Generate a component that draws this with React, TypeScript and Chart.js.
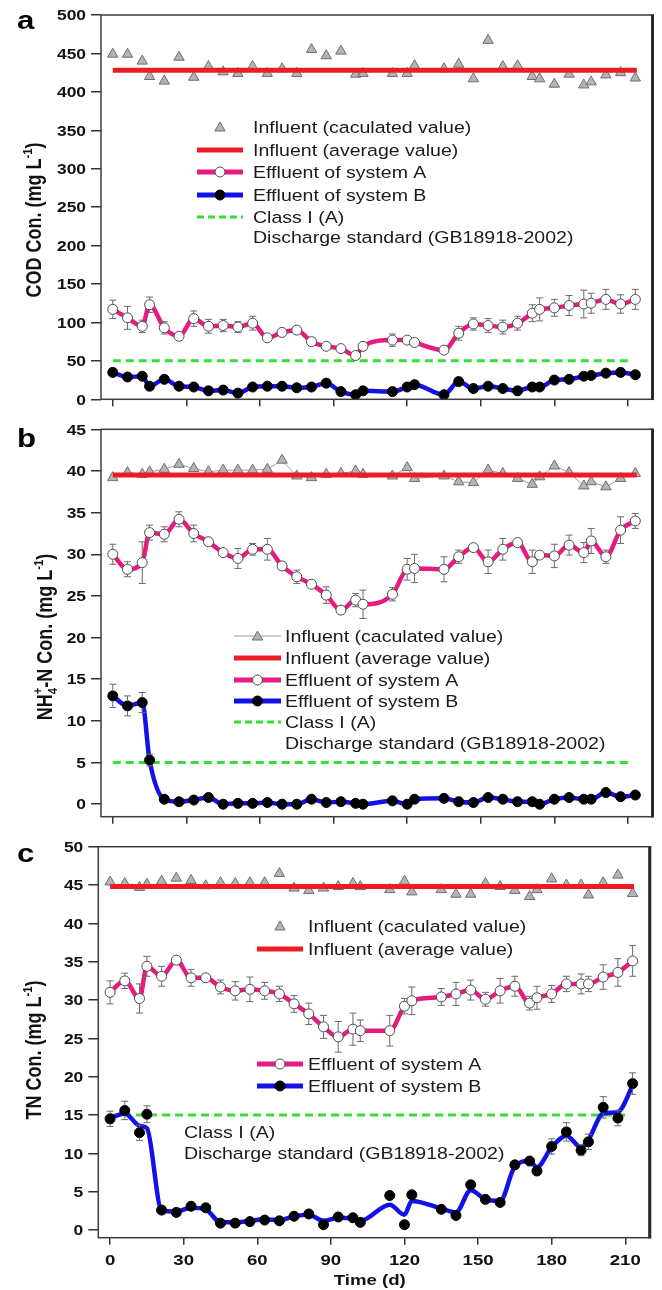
import React, { useEffect, useRef } from 'react';
import { Chart, registerables } from 'chart.js';

Chart.register(...registerables);

// ---------------- data ----------------
const days = [0, 6, 12, 15, 21, 27, 33, 39, 45, 51, 57, 63, 69, 75, 81, 87, 93, 99, 102, 114, 120, 123, 135, 141, 147, 153, 159, 165, 171, 174, 180, 186, 192, 195, 201, 207, 213];
const xTicks = [0, 30, 60, 90, 120, 150, 180, 210];

// (a) COD
const codTicks = [0, 50, 100, 150, 200, 250, 300, 350, 400, 450, 500];
const codInfluent = [449, 449, 440, 420, 414, 445, 419, 433, 426, 424, 433, 424, 430, 424, 455, 447, 453, 423, 424, 424, 424, 434, 430, 436, 417, 467, 433, 434, 420, 417, 410, 423, 409, 413, 422, 425, 418];
const codInfluentAvg = 428;
const codA = [117, 106, 95, 123, 93, 82, 105, 95, 96, 94, 99, 80, 87, 90, 75, 69, 66, 57, 69, 77, 77, 74, 64, 86, 98, 96, 94, 99, 112, 117, 119, 122, 124, 125, 130, 124, 130];
const codAErr = [12, 15, 8, 10, 8, 6, 10, 9, 8, 7, 9, 6, 6.5, 5, 6, 5, 5, 5, 5, 8, 6.5, 6, 5, 9, 8, 9, 9, 9, 11, 15, 11, 13, 18, 13, 13, 12, 13];
const codB = [35, 29, 30, 17, 26, 17, 16, 11, 12, 8, 16, 17, 17, 15, 16, 21, 10, 6, 11, 10, 16, 19, 6, 23, 14, 17, 14, 11, 16, 16, 25, 26, 30, 31, 34, 35, 32];
const codBErr = [3, 2, 2, 2, 2, 2, 2, 2, 2, 2, 2, 2, 2, 2, 2, 5, 2, 2, 2, 2, 2, 2, 2, 3, 2, 2, 2, 2, 2, 2, 2, 2, 2, 2, 3, 4, 2];
const codStandard = 50;

// (b) NH4+-N
const nhTicks = [0, 5, 10, 15, 20, 25, 30, 35, 40, 45];
const nhInfluent = [39.2, 39.8, 39.6, 39.9, 40.2, 40.8, 40.3, 39.9, 40.1, 40.1, 40.1, 40.2, 41.3, 39.4, 39.2, 39.6, 39.7, 40.0, 39.6, 39.4, 40.4, 39.1, 39.4, 38.7, 38.6, 40.1, 39.7, 39.1, 38.4, 39.3, 40.6, 39.8, 38.2, 38.7, 38.1, 39.1, 39.7];
const nhInfluentAvg = 39.5;
const nhA = [30.0, 28.2, 29.0, 32.6, 32.4, 34.2, 32.5, 31.5, 30.2, 29.5, 30.6, 30.6, 28.6, 27.3, 26.4, 25.1, 23.3, 24.5, 24.0, 25.2, 28.2, 28.3, 28.2, 29.7, 30.8, 29.1, 30.6, 31.4, 29.1, 29.9, 29.8, 31.1, 30.2, 31.6, 29.7, 32.9, 34.0];
const nhAErr = [1.2, 0.9, 2.5, 0.9, 0.9, 0.9, 1.0, 0.4, 0.5, 1.2, 0.7, 1.3, 0.6, 0.8, 0.4, 1.0, 0.4, 0.8, 1.7, 0.8, 1.3, 1.7, 1.5, 0.8, 0.5, 1.4, 1.3, 0.5, 1.4, 0.4, 1.4, 1.2, 1.2, 1.5, 0.8, 1.6, 0.9];
const nhB = [13.0, 11.8, 12.2, 5.3, 0.6, 0.3, 0.5, 0.8, 0.0, 0.1, 0.1, 0.2, 0.0, 0.0, 0.6, 0.2, 0.3, 0.1, 0.0, 0.4, 0.0, 0.6, 0.7, 0.3, 0.2, 0.8, 0.6, 0.3, 0.3, 0.0, 0.6, 0.8, 0.6, 0.6, 1.4, 0.9, 1.1];
const nhBErr = [1.4, 1.2, 1.2, 0.7, 0.2, 0.2, 0.2, 0.2, 0.2, 0.2, 0.2, 0.2, 0.2, 0.2, 0.2, 0.2, 0.2, 0.2, 0.2, 0.2, 0.2, 0.2, 0.2, 0.2, 0.2, 0.2, 0.2, 0.2, 0.2, 0.2, 0.2, 0.2, 0.2, 0.2, 0.2, 0.2, 0.2];
const nhStandard = 5;

// (c) TN
const tnTicks = [0, 5, 10, 15, 20, 25, 30, 35, 40, 45, 50];
const tnInfluent = [45.4, 45.2, 44.7, 45.1, 45.5, 45.9, 45.6, 44.9, 45.3, 45.2, 45.3, 45.3, 46.5, 44.6, 44.3, 44.6, 44.8, 45.2, 44.8, 44.4, 45.5, 44.1, 44.4, 43.8, 43.8, 45.2, 44.8, 44.3, 43.5, 44.4, 45.8, 45.0, 45.0, 43.7, 45.3, 46.3, 43.9];
const tnInfluentAvg = 44.8;
const tnA = [31.0, 32.5, 30.2, 34.4, 33.1, 35.2, 32.9, 32.9, 31.7, 31.2, 31.4, 31.2, 30.8, 29.5, 28.2, 26.5, 25.2, 26.2, 26.0, 26.0, 29.2, 29.9, 30.4, 30.8, 31.3, 30.1, 31.2, 31.8, 29.6, 30.3, 30.8, 32.1, 32.1, 32.1, 33.0, 33.6, 35.1];
const tnAErr = [1.5, 1.0, 1.9, 1.3, 1.3, 0.5, 1.1, 0.5, 0.9, 1.2, 1.6, 1.1, 1.0, 1.1, 1.4, 1.5, 2.0, 2.1, 1.4, 2.0, 1.0, 1.8, 1.1, 1.5, 1.3, 0.9, 1.6, 1.3, 0.9, 1.5, 1.1, 1.0, 1.3, 1.0, 1.6, 1.8, 2.0];
const tnB = [14.5, 15.6, 12.7, 15.1, 2.6, 2.3, 3.1, 2.9, 0.9, 0.9, 1.1, 1.3, 1.2, 1.8, 2.1, 0.7, 1.7, 1.6, 1.0, 4.5, 0.7, 4.6, 2.7, 1.9, 5.9, 4.0, 3.6, 8.5, 9.0, 7.7, 10.9, 12.8, 10.4, 11.5, 16.0, 14.6, 19.1];
const tnBErr = [1.0, 1.2, 1.0, 1.1, 0.3, 0.3, 0.3, 0.3, 0.3, 0.3, 0.3, 0.3, 0.3, 0.3, 0.3, 0.3, 0.3, 0.3, 0.3, 0.3, 0.3, 0.3, 0.3, 0.3, 0.3, 0.3, 0.3, 0.5, 0.5, 0.4, 1.0, 1.2, 0.7, 1.0, 1.4, 1.0, 1.4];
const tnBCurve = [14.6, 15.2, 13.6, 13.3, 2.6, 2.4, 2.9, 2.7, 1.0, 1.0, 1.2, 1.4, 1.3, 1.8, 2.0, 1.2, 1.6, 1.5, 1.2, 3.3, 2.0, 3.8, 2.8, 2.3, 5.2, 4.0, 3.8, 8.3, 9.0, 8.2, 10.8, 12.3, 10.8, 11.8, 15.2, 15.4, 18.8];
const tnStandard = 15;

const avgLineDays = [0, 213.6];
const standardDays = [0, 212];

// ---------------- styling ----------------
const FONT = '"Liberation Sans", Arial, Helvetica, "DejaVu Sans", sans-serif';
const SX = 1.2;
const RED = '#ec1c24';
const PINK = '#e8197f';
const BLUE = '#1212e8';
const GREEN = '#33e033';
const TRI_FILL = '#b4b4b4';
const TRI_EDGE = '#6e6e6e';
const FRAME = '#3c3c3c';

type Seg = { t: string; k?: 'sup' | 'sub'; stack?: string };

function drawRich(ctx: CanvasRenderingContext2D, segs: Seg[], x: number, y: number, size: number, bold: boolean, align: string, rotated = false, color = '#111') {
  ctx.save();
  ctx.translate(x, y);
  if (rotated) {
    ctx.rotate(-Math.PI / 2);
    ctx.scale(1, SX);
  } else {
    ctx.scale(SX, 1);
  }
  const w = bold ? 'bold ' : '';
  const small = size * 0.62;
  const widths = segs.map((s) => {
    ctx.font = `${w}${s.k ? small : size}px ${FONT}`;
    let m = ctx.measureText(s.t).width;
    if (s.stack) m = Math.max(m, ctx.measureText(s.stack).width);
    return m;
  });
  const total = widths.reduce((a, b) => a + b, 0);
  let cx = align === 'center' ? -total / 2 : align === 'right' ? -total : 0;
  const base = size * 0.36;
  ctx.textBaseline = 'alphabetic';
  ctx.textAlign = 'left';
  ctx.fillStyle = color;
  segs.forEach((s, i) => {
    ctx.font = `${w}${s.k ? small : size}px ${FONT}`;
    let dy = 0;
    if (s.k === 'sup') dy = -size * 0.42;
    if (s.k === 'sub') dy = size * 0.22;
    ctx.fillText(s.t, cx, base + dy);
    if (s.stack) ctx.fillText(s.stack, cx, base - size * 0.47);
    cx += widths[i];
  });
  ctx.restore();
}

function drawTri(ctx: CanvasRenderingContext2D, x: number, y: number, r: number) {
  ctx.beginPath();
  ctx.moveTo(x, y - r);
  ctx.lineTo(x + 0.866 * r, y + 0.5 * r);
  ctx.lineTo(x - 0.866 * r, y + 0.5 * r);
  ctx.closePath();
  ctx.fillStyle = TRI_FILL;
  ctx.fill();
  ctx.strokeStyle = TRI_EDGE;
  ctx.lineWidth = 1;
  ctx.stroke();
}

function drawSeg(ctx: CanvasRenderingContext2D, x0: number, x1: number, y: number, color: string, width: number, dash: number[] = []) {
  ctx.save();
  ctx.beginPath();
  ctx.setLineDash(dash);
  ctx.moveTo(x0, y);
  ctx.lineTo(x1, y);
  ctx.strokeStyle = color;
  ctx.lineWidth = width;
  ctx.stroke();
  ctx.restore();
}

function drawDot(ctx: CanvasRenderingContext2D, x: number, y: number, r: number, fill: string, stroke: string) {
  ctx.beginPath();
  ctx.arc(x, y, r, 0, Math.PI * 2);
  ctx.fillStyle = fill;
  ctx.fill();
  ctx.strokeStyle = stroke;
  ctx.lineWidth = 1;
  ctx.stroke();
}

interface LegendRow { sym: string; y: number; text: string; x0?: number; x1?: number; tx?: number }
interface PanelCfg {
  top: number;
  height: number;
  plot: { left: number; right: number; top: number; bottom: number };
  yMin: number;
  yMax: number;
  yTicks: number[];
  showXLabels: boolean;
  letter: string;
  letterY: number;
  title: Seg[];
  titleX: number;
  titleY: number;
  influent: number[];
  influentLine: boolean;
  avg: number;
  a: number[];
  aErr: number[];
  b: number[];
  bErr: number[];
  bCurve: number[];
  standard: number;
  legend: { x0: number; x1: number; tx: number; rows: LegendRow[] };
}

const panels: PanelCfg[] = [
  {
    top: 0,
    height: 415,
    plot: { left: 101, right: 652, top: 15, bottom: 399.3 },
    yMin: 0,
    yMax: 500,
    yTicks: codTicks,
    showXLabels: false,
    letter: 'a',
    letterY: 28.5,
    title: [{ t: 'COD Con. (mg L' }, { t: '-1', k: 'sup' }, { t: ')' }],
    titleX: 33,
    titleY: 220,
    influent: codInfluent,
    influentLine: false,
    avg: codInfluentAvg,
    a: codA,
    aErr: codAErr,
    b: codB,
    bErr: codBErr,
    bCurve: codB,
    standard: codStandard,
    legend: {
      x0: 197,
      x1: 243,
      tx: 253,
      rows: [
        { sym: 'tri', y: 127, text: 'Influent (caculated value)' },
        { sym: 'red', y: 150, text: 'Influent (average value)' },
        { sym: 'pink', y: 172, text: 'Effluent of system A' },
        { sym: 'blue', y: 195, text: 'Effluent of system B' },
        { sym: 'green', y: 217, text: 'Class I (A)' },
        { sym: 'none', y: 237, text: 'Discharge standard (GB18918-2002)' },
      ],
    },
  },
  {
    top: 415,
    height: 415,
    plot: { left: 101, right: 652, top: 429.3, bottom: 816.7 },
    yMin: -1.5,
    yMax: 45,
    yTicks: nhTicks,
    showXLabels: false,
    letter: 'b',
    letterY: 447,
    title: [{ t: 'NH' }, { t: '4', k: 'sub', stack: '+' }, { t: '-N Con. (mg L' }, { t: '-1', k: 'sup' }, { t: ')' }],
    titleX: 44,
    titleY: 637,
    influent: nhInfluent,
    influentLine: true,
    avg: nhInfluentAvg,
    a: nhA,
    aErr: nhAErr,
    b: nhB,
    bErr: nhBErr,
    bCurve: nhB,
    standard: nhStandard,
    legend: {
      x0: 234,
      x1: 281,
      tx: 285,
      rows: [
        { sym: 'triLine', y: 636, text: 'Influent (caculated value)' },
        { sym: 'red', y: 658, text: 'Influent (average value)' },
        { sym: 'pink', y: 680, text: 'Effluent of system A' },
        { sym: 'blue', y: 701, text: 'Effluent of system B' },
        { sym: 'green', y: 722, text: 'Class I (A)' },
        { sym: 'none', y: 743, text: 'Discharge standard (GB18918-2002)' },
      ],
    },
  },
  {
    top: 830,
    height: 460,
    plot: { left: 98.3, right: 649.3, top: 846.7, bottom: 1237.7 },
    yMin: -1,
    yMax: 50,
    yTicks: tnTicks,
    showXLabels: true,
    letter: 'c',
    letterY: 862,
    title: [{ t: 'TN Con. (mg L' }, { t: '-1', k: 'sup' }, { t: ')' }],
    titleX: 33,
    titleY: 1050,
    influent: tnInfluent,
    influentLine: false,
    avg: tnInfluentAvg,
    a: tnA,
    aErr: tnAErr,
    b: tnB,
    bErr: tnBErr,
    bCurve: tnBCurve,
    standard: tnStandard,
    legend: {
      x0: 257,
      x1: 303,
      tx: 308,
      rows: [
        { sym: 'tri', y: 926, text: 'Influent (caculated value)' },
        { sym: 'red', y: 949, text: 'Influent (average value)' },
        { sym: 'pink', y: 1064, text: 'Effluent of system A' },
        { sym: 'blue', y: 1086, text: 'Effluent of system B' },
        { sym: 'none', y: 1132, text: 'Class I (A)', tx: 184 },
        { sym: 'none', y: 1153.5, text: 'Discharge standard (GB18918-2002)', tx: 184 },
      ],
    },
  },
];

function buildConfig(cfg: PanelCfg): any {
  const pts = (ys: number[]) => days.map((d, i) => ({ x: d, y: ys[i] }));
  const H = cfg.height;
  const off = cfg.top;
  const P = {
    left: cfg.plot.left,
    right: cfg.plot.right,
    top: cfg.plot.top - off,
    bottom: cfg.plot.bottom - off,
  };

  const decor = {
    id: 'decor',
    afterDatasetsDraw(chart: any) {
      const ctx: CanvasRenderingContext2D = chart.ctx;
      const ys = chart.scales.y;
      chart.data.datasets.forEach((ds: any, i: number) => {
        if (!ds.errors) return;
        const meta = chart.getDatasetMeta(i);
        const r = ds.pointRadius || 5;
        ctx.save();
        ctx.strokeStyle = '#6a6a6a';
        ctx.lineWidth = 1;
        meta.data.forEach((el: any, j: number) => {
          const v = ds.data[j].y;
          const e = ds.errors[j];
          const yt = ys.getPixelForValue(v + e);
          const yb = ys.getPixelForValue(v - e);
          const x = el.x;
          const y = el.y;
          ctx.beginPath();
          if (yt < y - r) {
            ctx.moveTo(x, yt);
            ctx.lineTo(x, y - r);
            ctx.moveTo(x - 3.5, yt);
            ctx.lineTo(x + 3.5, yt);
          }
          if (yb > y + r) {
            ctx.moveTo(x, y + r);
            ctx.lineTo(x, yb);
            ctx.moveTo(x - 3.5, yb);
            ctx.lineTo(x + 3.5, yb);
          }
          ctx.stroke();
        });
        ctx.restore();
      });
    },
    afterDraw(chart: any) {
      const ctx: CanvasRenderingContext2D = chart.ctx;
      const a = chart.chartArea;
      // frame
      ctx.save();
      ctx.strokeStyle = FRAME;
      ctx.lineWidth = 1.5;
      ctx.strokeRect(a.left, a.top, a.right - a.left, a.bottom - a.top);
      ctx.beginPath();
      ctx.lineWidth = 3;
      ctx.strokeStyle = '#2a2a2a';
      ctx.moveTo(a.right + 0.5, a.top - 0.7);
      ctx.lineTo(a.right + 0.5, a.bottom + 0.7);
      ctx.stroke();
      ctx.restore();

      // y tick labels
      const ys = chart.scales.y;
      cfg.yTicks.forEach((v) => {
        drawRich(ctx, [{ t: String(v) }], a.left - 15, ys.getPixelForValue(v), 14.5, true, 'right');
      });
      // x tick labels
      if (cfg.showXLabels) {
        const xs = chart.scales.x;
        xTicks.forEach((v) => {
          drawRich(ctx, [{ t: String(v) }], xs.getPixelForValue(v), 1259 - off, 15.5, true, 'center');
        });
        drawRich(ctx, [{ t: 'Time (d)' }], (a.left + a.right) / 2 - 4, 1279 - off, 15.5, true, 'center');
      }
      // axis title
      drawRich(ctx, cfg.title, cfg.titleX, cfg.titleY - off, 18, true, 'center', true);
      // panel letter
      ctx.save();
      ctx.translate(17, cfg.letterY - off);
      ctx.scale(SX, 1);
      ctx.font = `bold 26px ${FONT}`;
      ctx.fillStyle = '#000';
      ctx.textBaseline = 'alphabetic';
      ctx.fillText(cfg.letter, 0, 0);
      ctx.restore();

      // legend
      const L = cfg.legend;
      L.rows.forEach((row) => {
        const x0 = row.x0 ?? L.x0;
        const x1 = row.x1 ?? L.x1;
        const tx = row.tx ?? L.tx;
        const y = row.y - off;
        const cx = (x0 + x1) / 2;
        if (row.sym === 'tri') drawTri(ctx, cx, y + 1, 6);
        if (row.sym === 'triLine') {
          drawSeg(ctx, x0, x1, y, '#9a9a9a', 1.2);
          drawTri(ctx, cx, y + 1, 6);
        }
        if (row.sym === 'red') drawSeg(ctx, x0, x1, y, RED, 5);
        if (row.sym === 'pink') {
          drawSeg(ctx, x0, x1, y, PINK, 5);
          drawDot(ctx, cx, y, 5, '#ffffff', '#4a4a4a');
        }
        if (row.sym === 'blue') {
          drawSeg(ctx, x0, x1, y, BLUE, 5);
          drawDot(ctx, cx, y, 5, '#000000', '#000000');
        }
        if (row.sym === 'green') drawSeg(ctx, x0, x1, y, GREEN, 3, [7, 4]);
        drawRich(ctx, [{ t: row.text }], tx, y, 16.3, false, 'left', false, '#1a1a1a');
      });
    },
  };

  return {
    type: 'line',
    data: {
      datasets: [
        {
          label: 'Effluent of system B',
          data: pts(cfg.b),
          showLine: false,
          pointRadius: 5,
          pointHoverRadius: 5,
          pointBackgroundColor: '#000000',
          pointBorderColor: '#000000',
          pointBorderWidth: 1,
          errors: cfg.bErr,
          order: 0,
        },
        {
          label: 'Effluent of system B (curve)',
          data: pts(cfg.bCurve),
          borderColor: BLUE,
          borderWidth: 4.5,
          pointRadius: 0,
          cubicInterpolationMode: 'monotone',
          borderJoinStyle: 'round',
          borderCapStyle: 'round',
          fill: false,
          order: 1,
        },
        {
          label: 'Effluent of system A',
          data: pts(cfg.a),
          showLine: false,
          pointRadius: 5,
          pointHoverRadius: 5,
          pointBackgroundColor: '#ffffff',
          pointBorderColor: '#4a4a4a',
          pointBorderWidth: 1,
          errors: cfg.aErr,
          order: 2,
        },
        {
          label: 'Effluent of system A (curve)',
          data: pts(cfg.a),
          borderColor: PINK,
          borderWidth: 4.5,
          pointRadius: 0,
          cubicInterpolationMode: 'monotone',
          borderJoinStyle: 'round',
          borderCapStyle: 'round',
          fill: false,
          order: 3,
        },
        {
          label: 'Influent (average value)',
          data: avgLineDays.map((d) => ({ x: d, y: cfg.avg })),
          borderColor: RED,
          borderWidth: 5,
          pointRadius: 0,
          fill: false,
          order: 4,
        },
        {
          label: 'Influent (caculated value)',
          data: pts(cfg.influent),
          showLine: cfg.influentLine,
          borderColor: '#a0a0a0',
          borderWidth: 1,
          pointStyle: 'triangle',
          pointRadius: 6,
          pointHoverRadius: 6,
          pointBackgroundColor: TRI_FILL,
          pointBorderColor: TRI_EDGE,
          pointBorderWidth: 1,
          tension: 0,
          fill: false,
          order: 5,
        },
        {
          label: 'Class I (A) Discharge standard (GB18918-2002)',
          data: standardDays.map((d) => ({ x: d, y: cfg.standard })),
          borderColor: GREEN,
          borderWidth: 3,
          borderDash: [8, 5],
          pointRadius: 0,
          fill: false,
          order: 6,
        },
      ],
    },
    options: {
      responsive: false,
      animation: false,
      events: [],
      layout: {
        padding: { left: 0, top: P.top, right: 662 - P.right, bottom: 0 },
      },
      plugins: {
        legend: { display: false },
        tooltip: { enabled: false },
        title: { display: false },
      },
      scales: {
        x: {
          type: 'linear',
          position: 'bottom',
          min: -4.8,
          max: 219.8,
          afterBuildTicks: (s: any) => {
            s.ticks = xTicks.map((v) => ({ value: v }));
          },
          afterFit: (s: any) => {
            s.height = H - P.bottom;
          },
          ticks: { display: false },
          grid: { display: true, drawOnChartArea: false, drawTicks: true, tickLength: 7, color: '#333', lineWidth: 1.5 },
          border: { display: false },
        },
        y: {
          type: 'linear',
          position: 'left',
          min: cfg.yMin,
          max: cfg.yMax,
          afterBuildTicks: (s: any) => {
            s.ticks = cfg.yTicks.map((v) => ({ value: v }));
          },
          afterFit: (s: any) => {
            s.width = P.left;
          },
          ticks: { display: false },
          grid: { display: true, drawOnChartArea: false, drawTicks: true, tickLength: 10, color: '#333', lineWidth: 1.5 },
          border: { display: false },
        },
      },
    },
    plugins: [decor],
  };
}

function Panel({ cfg }: { cfg: PanelCfg }) {
  const ref = useRef<HTMLCanvasElement>(null);
  useEffect(() => {
    if (!ref.current) return;
    const chart = new Chart(ref.current, buildConfig(cfg));
    return () => chart.destroy();
  }, [cfg]);
  return (
    <canvas
      ref={ref}
      width={662}
      height={cfg.height}
      style={{ position: 'absolute', left: 0, top: cfg.top, width: 662, height: cfg.height, display: 'block' }}
    />
  );
}

export default function App() {
  return (
    <div style={{ position: 'absolute', left: 0, top: 0, width: 662, height: 1290, background: '#ffffff', overflow: 'hidden' }}>
      {panels.map((p) => (
        <Panel key={p.letter} cfg={p} />
      ))}
    </div>
  );
}
